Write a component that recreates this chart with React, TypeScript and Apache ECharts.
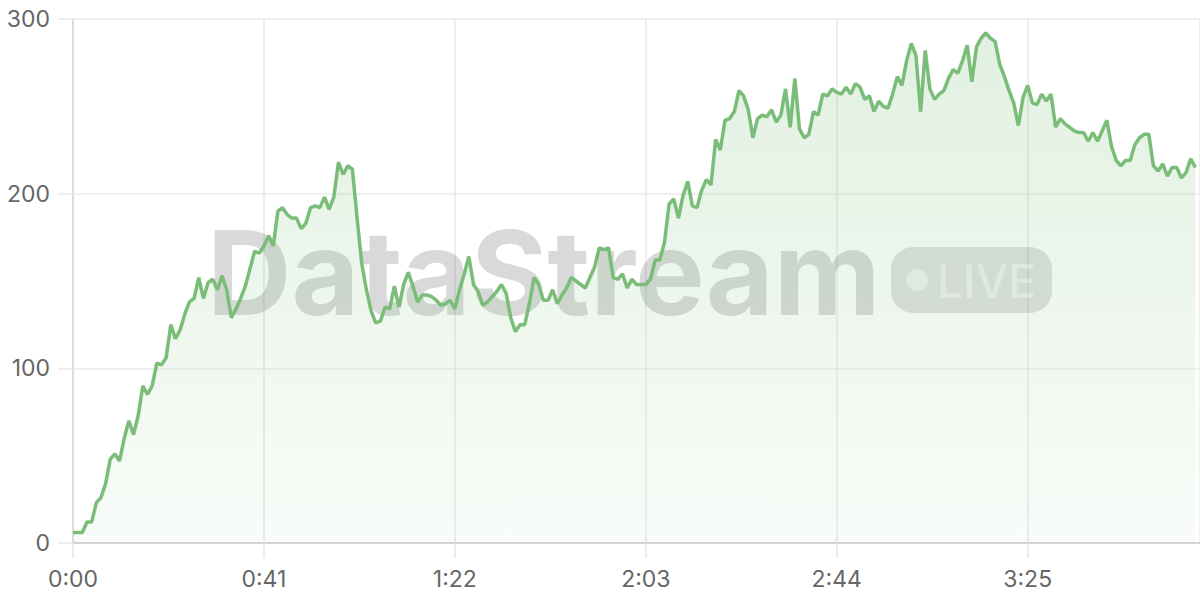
import React, { useEffect, useRef } from "react";
import * as echarts from "echarts";

// One sample per second
const values: number[] = [
  6, 6, 6, 12, 12, 23, 26, 34, 48, 51,
  47, 60, 70, 62, 73, 90, 85, 90, 103, 102,
  106, 125, 117, 122, 131, 138, 140, 152, 140, 149,
  151, 145, 153, 145, 129, 134, 140, 147, 157, 167,
  166, 170, 176, 170, 190, 192, 188, 186, 186, 180,
  183, 192, 193, 192, 198, 191, 198, 218, 211, 216,
  214, 186, 160, 145, 133, 126, 127, 135, 134, 147,
  135, 148, 155, 147, 138, 142, 142, 141, 139, 136,
  137, 139, 134, 145, 154, 164, 148, 144, 136, 138,
  141, 144, 148, 143, 129, 121, 125, 125, 137, 152,
  148, 139, 139, 145, 137, 142, 146, 152, 150, 148,
  146, 152, 158, 169, 168, 169, 152, 151, 154, 146,
  151, 148, 148, 148, 151, 162, 162, 172, 194, 197,
  186, 199, 207, 193, 192, 202, 208, 205, 231, 225,
  242, 243, 247, 259, 256, 248, 232, 243, 245, 244,
  248, 241, 245, 260, 238, 266, 237, 232, 234, 247,
  245, 257, 256, 260, 258, 257, 261, 257, 263, 261,
  254, 256, 247, 253, 250, 249, 257, 267, 262, 276,
  286, 279, 247, 282, 260, 254, 257, 259, 266, 271,
  269, 276, 285, 264, 284, 289, 292, 289, 287, 274,
  267, 259, 252, 239, 255, 262, 252, 251, 257, 253,
  257, 238, 243, 240, 238, 236, 235, 235, 230, 235,
  230, 236, 242, 227, 219, 216, 219, 219, 228, 232,
  234, 234, 216, 213, 217, 210, 215, 215, 209, 212,
  220, 215,
];
const seconds: number[] = values.map((_, i) => i);
const xTickInterval = 41;
const xMax = 242;
const yTicks: number[] = [0, 100, 200, 300];

const lineColor = "#7abd78";
const FONT = "Inter, 'Noto Sans', sans-serif";

function fmtTime(s: number): string {
  const m = Math.floor(s / 60);
  const r = Math.round(s % 60);
  return `${m}:${r < 10 ? "0" + r : r}`;
}

export default function App() {
  const ref = useRef<HTMLDivElement>(null);
  useEffect(() => {
    if (!ref.current) return;
    const chart = echarts.init(ref.current, undefined, { renderer: "svg" });
    chart.setOption({
      animation: false,
      backgroundColor: "#ffffff",
      grid: { left: 73, right: 0, top: 19, bottom: 57, containLabel: false },
      xAxis: {
        type: "value",
        min: 0,
        max: xMax,
        interval: xTickInterval,
        axisLine: { show: true, lineStyle: { color: "#cccccc", width: 1.5 } },
        axisTick: { show: true, length: 15, lineStyle: { color: "#e6e6e6", width: 1.5 } },
        splitLine: { show: true, lineStyle: { color: "#e8e8e8", width: 1.5 } },
        axisLabel: {
          show: true,
          margin: 24,
          fontSize: 23,
          color: "#666666",
          fontFamily: FONT,
          showMaxLabel: false,
          formatter: (v: number) => (v % xTickInterval === 0 ? fmtTime(v) : ""),
        },
      },
      yAxis: {
        type: "value",
        min: yTicks[0],
        max: yTicks[yTicks.length - 1],
        interval: 100,
        axisLine: { show: true, lineStyle: { color: "#d6d6d6", width: 1.5 } },
        axisTick: { show: true, length: 15, lineStyle: { color: "#eaeaea", width: 1.5 } },
        splitLine: { show: true, lineStyle: { color: "#ebebeb", width: 1.5 } },
        axisLabel: {
          margin: 23,
          fontSize: 23,
          color: "#666666",
          fontFamily: FONT,
        },
      },
      graphic: [
        {
          type: "text",
          z: 1,
          x: 207,
          y: 272,
          style: {
            text: "DataStream",
            font: `bold 117px ${FONT}`,
            fill: "rgba(0,0,0,0.15)",
            textAlign: "left",
            verticalAlign: "middle",
          },
        },
        {
          type: "rect",
          z: 1,
          shape: { x: 891, y: 247, width: 161, height: 66, r: 22 },
          style: { fill: "rgba(0,0,0,0.12)" },
        },
        {
          type: "circle",
          z: 1,
          shape: { cx: 917, cy: 280, r: 11 },
          style: { fill: "rgba(255,255,255,0.5)" },
        },
        {
          type: "text",
          z: 1,
          x: 937,
          y: 281,
          style: {
            text: "LIVE",
            font: `500 46px ${FONT}`,
            fill: "rgba(255,255,255,0.5)",
            textAlign: "left",
            verticalAlign: "middle",
          },
        },
      ],
      series: [
        {
          type: "line",
          z: 3,
          data: seconds.map((s, i) => [s, values[i]]),
          showSymbol: false,
          symbol: "none",
          lineStyle: { color: lineColor, width: 3.5 },
          itemStyle: { color: lineColor },
          areaStyle: {
            color: new echarts.graphic.LinearGradient(0, 0, 0, 1, [
              { offset: 0, color: "rgba(124,191,123,0.32)" },
              { offset: 1, color: "rgba(124,191,123,0.07)" },
            ]),
          },
        },
      ],
    });
    return () => chart.dispose();
  }, []);
  return (
    <div
      ref={ref}
      style={{ position: "fixed", left: 0, top: 0, width: 1200, height: 600 }}
    />
  );
}
